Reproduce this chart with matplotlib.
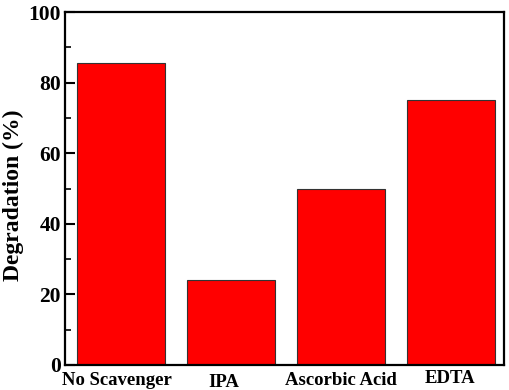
import matplotlib
matplotlib.use("Agg")
import matplotlib.pyplot as plt
from matplotlib.transforms import ScaledTranslation
from matplotlib.ticker import MultipleLocator

categories = ["No Scavenger", "IPA", "Ascorbic Acid", "EDTA"]
degradation = [85.5, 24.0, 50.0, 75.0]

plt.rcParams['font.family'] = ['Liberation Serif', 'DejaVu Serif']
plt.rcParams['font.weight'] = 'bold'

fig = plt.figure(figsize=(5.1, 3.9), dpi=100)
ax = fig.add_axes([65/510, 1 - 365/390, (504-65)/510, (365-12)/390])

x = list(range(1, len(categories) + 1))
ax.bar(x, degradation, width=0.8, color='#ff0000', edgecolor='#333333', linewidth=0.8)

ax.set_xlim(0.49, 4.48)
ax.set_ylim(0, 100)
ax.yaxis.set_major_locator(MultipleLocator(20))
ax.yaxis.set_minor_locator(MultipleLocator(10))
ax.tick_params(axis='y', which='major', direction='in', length=7, width=1.5, labelsize=15.5, pad=3)
ax.tick_params(axis='y', which='minor', direction='in', length=4, width=1.2)
ax.set_xticks(x)
ax.set_xticklabels(categories, fontsize=13.5, fontweight='bold')
ax.tick_params(axis='x', length=0, pad=5)
for lab in ax.get_yticklabels():
    lab.set_fontweight('bold')

# small per-label offsets (pixels) to mimic reference placement
offsets = [(-4, 0), (-7, -2), (0, 0), (-1, 2)]
for lab, (dx, dy) in zip(ax.get_xticklabels(), offsets):
    lab.set_transform(lab.get_transform() + ScaledTranslation(dx/100, dy/100, fig.dpi_scale_trans))

for s in ax.spines.values():
    s.set_linewidth(1.6)

ax.set_ylabel("Degradation (%)", fontsize=17, fontweight='bold', labelpad=3)
ax.yaxis.label.set_position((0, 0.48))

fig.savefig("out.png", dpi=100)
